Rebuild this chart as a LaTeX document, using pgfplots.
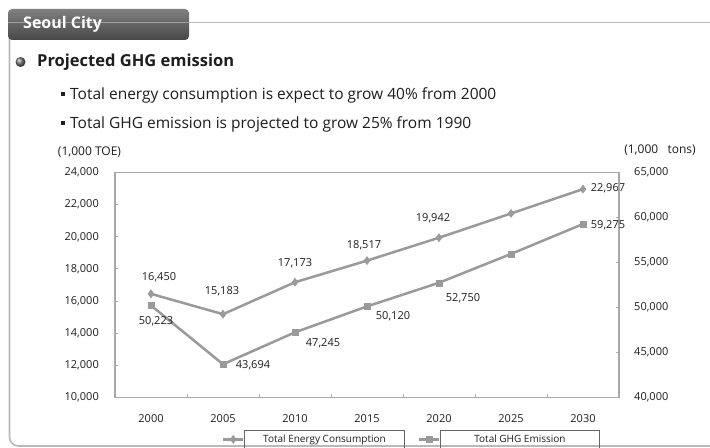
\documentclass[border=0pt]{standalone}
\usepackage{pgfplots}
\pgfplotsset{compat=1.18}
\usepackage{fontspec}
\setmainfont{Open Sans}
\definecolor{ln}{HTML}{9A9A9A}
\definecolor{fr}{HTML}{A8A8A8}
\definecolor{tx}{HTML}{1E1E1E}
\newcommand\fs[1]{\fontsize{#1bp}{#1bp}\selectfont}
\begin{document}
\begin{tikzpicture}[x=1bp,y=-1bp]
\useasboundingbox (0,0) rectangle (710,448);
\fill[white] (0,0) rectangle (710,448);
% frame
\draw[fr!80, line width=1.6bp] (185,22.5) -- (712,22.5);
\draw[fr!80, line width=1.6bp, rounded corners=9bp] (9.5,38) -- (9.5,446) -- (712,446);
% tab
\shade[top color=black!50, bottom color=black!72, rounded corners=4bp] (8,9) rectangle (189,40);
\draw[white, opacity=0.35, line width=1bp] (8,22.5) -- (189,22.5);
\node[anchor=west, text=white, inner sep=0, font=\bfseries\fs{16}] at (23,24.5) {Seoul City};
% title
\shade[ball color=black!55] (20.5,62) circle (5);
\node[anchor=west, inner sep=0, text=tx, font=\bfseries\fs{16.5}] at (37,62.5) {Projected GHG emission};
\fill[tx] (61,92.5) rectangle (64.5,96.5);
\node[anchor=west, inner sep=0, text=tx, font=\fs{15.5}] at (70,95) {Total energy consumption is expect to grow 40\% from 2000};
\fill[tx] (61,121.5) rectangle (64.5,125.5);
\node[anchor=west, inner sep=0, text=tx, font=\fs{15.5}] at (70,124) {Total GHG emission is projected to grow 25\% from 1990};
% unit labels
\node[inner sep=0, text=tx, font=\fs{12}] at (89.5,152) {(1,000 TOE)};
\node[inner sep=0, text=tx, font=\fs{12}] at (660,150) {(1,000\ \ \ tons)};

\begin{axis}[
  at={(115bp,-397.5bp)}, anchor=south west,
  scale only axis, width=504bp, height=225bp,
  xmin=-0.5, xmax=6.5, ymin=10000, ymax=24000,
  scaled y ticks=false,
  axis line style={fr, line width=1.2bp},
  xtick={0,...,6},
  xticklabels={2000,2005,2010,2015,2020,2025,2030},
  minor xtick={0.5,1.5,2.5,3.5,4.5,5.5},
  major x tick style={draw=none},
  minor tick length=4bp,
  xtick pos=bottom, ytick pos=left,
  ytick={10000,12000,...,24000},
  tick align=inside, major tick length=3bp,
  tick style={fr, line width=1bp},
  /pgf/number format/.cd, 1000 sep={,}, assume math mode=true, /pgfplots/.cd,
  xticklabel style={anchor=center, yshift=-21.5bp, inner sep=0, text=tx, font=\fs{11}},
  yticklabel style={anchor=east, inner sep=0, xshift=-16bp, text=tx, font=\fs{11}},
  legend columns=2,
  legend style={at={(0.2123,-0.144)}, anchor=north west, draw=none, fill=none, inner sep=0pt, outer sep=0pt,
    nodes={draw=black!60, line width=1bp, minimum width=159bp, minimum height=18bp, inner sep=0pt, text=tx, font=\fs{10}},
    /tikz/every even column/.append style={column sep=13bp}},
  legend image code/.code={\draw[mark repeat=2,mark phase=2,#1] plot coordinates {(0bp,0bp) (10bp,0bp) (20bp,0bp)};},
  clip=false,
]
\addplot[ln, line width=2.5bp, mark=diamond*, mark size=4bp, mark options={fill=ln, draw=ln, line width=0.5bp}]
  coordinates {(0,16450) (1,15183) (2,17173) (3,18517) (4,19942) (5,21450) (6,22967)};
\addlegendentry{Total Energy Consumption}
\addlegendimage{ln, line width=2.5bp, mark=square*, mark size=3bp, mark options={fill=ln, draw=ln, line width=0.5bp}}
\addlegendentry{Total GHG Emission}
\begin{scope}[every node/.style={text=tx, font=\fs{11}, inner sep=0}]
\node[xshift=8bp, yshift=17bp] at (axis cs:0,16450) {16,450};
\node[xshift=-1bp, yshift=23bp] at (axis cs:1,15183) {15,183};
\node[yshift=19bp] at (axis cs:2,17173) {17,173};
\node[xshift=-3bp, yshift=15bp] at (axis cs:3,18517) {18,517};
\node[xshift=-6bp, yshift=19bp] at (axis cs:4,19942) {19,942};
\node[xshift=25bp, yshift=1bp] at (axis cs:6,22967) {22,967};
\end{scope}
\end{axis}

\begin{axis}[
  at={(115bp,-397.5bp)}, anchor=south west,
  scale only axis, width=504bp, height=225bp,
  xmin=-0.5, xmax=6.5, ymin=40000, ymax=65000,
  scaled y ticks=false,
  axis x line=none, axis y line*=right,
  axis line style={fr, line width=1.2bp},
  ytick={40000,45000,...,65000},
  tick align=inside, major tick length=3bp,
  tick style={fr, line width=1bp},
  /pgf/number format/.cd, 1000 sep={,}, assume math mode=true, /pgfplots/.cd,
  yticklabel style={anchor=west, inner sep=0, xshift=15bp, text=tx, font=\fs{11}},
  clip=false,
]
\addplot[ln, line width=2.5bp, mark=square*, mark size=3bp, mark options={fill=ln, draw=ln, line width=0.5bp}]
  coordinates {(0,50223) (1,43694) (2,47245) (3,50120) (4,52750) (5,55950) (6,59275)};
\begin{scope}[every node/.style={text=tx, font=\fs{11}, inner sep=0}]
\node[xshift=5bp, yshift=-16bp] at (axis cs:0,50223) {50,223};
\node[xshift=30bp, yshift=-1bp] at (axis cs:1,43694) {43,694};
\node[xshift=28bp, yshift=-11bp] at (axis cs:2,47245) {47,245};
\node[xshift=26bp, yshift=-10bp] at (axis cs:3,50120) {50,120};
\node[xshift=24bp, yshift=-15bp] at (axis cs:4,52750) {52,750};
\node[xshift=25bp, yshift=-1bp] at (axis cs:6,59275) {59,275};
\end{scope}
\end{axis}
\end{tikzpicture}
\end{document}
